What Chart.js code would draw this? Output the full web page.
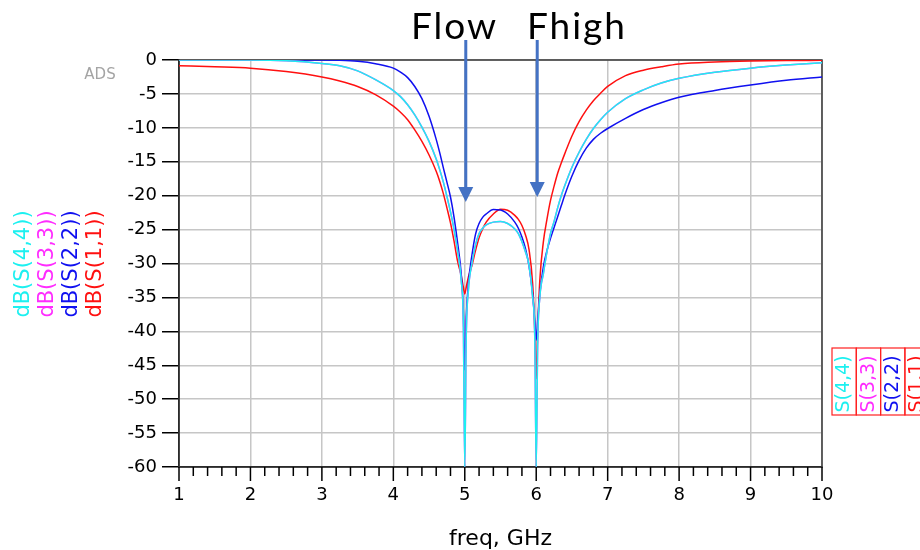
<!DOCTYPE html>
<html>
<head>
<meta charset="utf-8">
<title>Return loss, S(1,1) to S(4,4)</title>
<script src="https://cdn.jsdelivr.net/npm/chart.js@4.4.1/dist/chart.umd.min.js"></script>
<style>
    body { margin: 0; background: #fff; }
    #wrap { position: relative; width: 920px; height: 550px; }
</style>
</head>
<body>
<div id="wrap"><canvas id="sparChart"></canvas></div>
<script>
"use strict";

// sweep points, GHz (denser around the two reflection zeros)
const freqGHz = [
    1, 1.5, 2, 2.5, 3, 3.25, 3.5, 3.75, 4,
    4.1, 4.2, 4.3, 4.4, 4.5, 4.6, 4.65, 4.7, 4.75, 4.8, 4.85, 4.9, 4.95, 4.98,
    5, 5.02, 5.05, 5.1, 5.15, 5.2, 5.25, 5.3, 5.4, 5.5,
    5.6, 5.7, 5.75, 5.8, 5.85, 5.9, 5.95, 5.98,
    6, 6.02, 6.05, 6.1, 6.15, 6.2, 6.25, 6.3, 6.35, 6.4,
    6.5, 6.6, 6.7, 6.8, 6.9, 7, 7.25, 7.5, 7.75, 8, 8.5, 9, 9.5, 10
];

// dB(S(1,1))
const s11 = [
    -0.85, -1.0, -1.2, -1.7, -2.5, -3.1, -3.9, -5.1, -6.8,
    -7.7, -8.8, -10.3, -12.0, -14.0, -16.4, -17.9, -19.7, -21.8, -24.0, -26.7, -29.7, -31.8, -33.5,
    -34.5, -33.5, -32, -30.3, -28.1, -26.2, -24.9, -23.9, -22.7, -22.0,
    -22.15, -22.9, -23.5, -24.4, -25.8, -28, -33, -40,
    -47, -40, -32.5, -26.8, -23.5, -20.7, -18.6, -16.7, -15.2, -13.8,
    -11.2, -9.1, -7.4, -6.0, -4.9, -3.9, -2.3, -1.5, -1.0, -0.6, -0.3, -0.15, -0.08, -0.05
];

// dB(S(2,2))
const s22 = [
    0, 0, 0, 0, 0, -0.05, -0.2, -0.55, -1.2,
    -1.8, -2.6, -3.9, -5.7, -8.3, -11.7, -13.7, -15.9, -18.0, -20.2, -23.2, -27.0, -31.5, -37,
    -45.7, -38, -33, -28.8, -25.7, -24.1, -23.2, -22.7, -22.05, -22.1,
    -22.7, -23.9, -24.8, -26.1, -27.8, -30.4, -34.5, -38.5,
    -41.3, -38.5, -34.5, -30.5, -28.1, -26.3, -24.7, -23.1, -21.5, -19.9,
    -17.1, -14.8, -13.0, -11.7, -10.8, -10.1, -8.6, -7.3, -6.3, -5.5, -4.5, -3.7, -3.0, -2.5
];

// dB(S(4,4))
const s44 = [
    0, 0, 0, -0.1, -0.5, -0.85, -1.6, -2.9, -4.5,
    -5.4, -6.6, -8.1, -9.9, -12.0, -14.6, -16.2, -18.0, -20.1, -22.4, -25.0, -28.2, -32.5, -39,
    -60, -41, -34, -30, -27.3, -25.6, -24.8, -24.3, -23.9, -23.8,
    -24.1, -24.9, -25.6, -26.8, -28.3, -30.3, -35, -41,
    -60, -42, -35, -31.5, -28.3, -25.6, -23.8, -21.8, -20, -18.5,
    -15.8, -13.6, -11.7, -10.1, -8.8, -7.7, -5.7, -4.4, -3.4, -2.7, -1.8, -1.2, -0.75, -0.4
];

// dB(S(3,3)) sits right under S(4,4) over the whole sweep
const s33 = s44.slice();

const traceNames = ['S(4,4)', 'S(3,3)', 'S(2,2)', 'S(1,1)'];
const traceData = [s44, s33, s22, s11];
const traceColors = ['#1cf0f0', '#ff2cff', '#1010f0', '#ff1010'];

const markerFreqs = [5, 6];
const markerLabels = ['Flow', 'Fhigh'];

const isWhole = v => Math.abs(v - Math.round(v)) < 1e-6;

const overlay = {
    id: 'adsOverlay',
    beforeDatasetsDraw(chart) {
        const { ctx, chartArea: a } = chart;
        ctx.save();
        ctx.strokeStyle = '#383838';
        ctx.lineWidth = 1.5;
        ctx.strokeRect(a.left, a.top, a.right - a.left, a.bottom - a.top);
        ctx.restore();
    },
    afterDraw(chart) {
        const { ctx, chartArea: a } = chart;
        const xs = chart.scales.x;
        ctx.save();

        // x tick marks under the axis
        ctx.strokeStyle = '#000';
        ctx.lineWidth = 1.5;
        xs.ticks.forEach(t => {
            const px = xs.getPixelForValue(t.value);
            const len = isWhole(t.value) ? 14 : 9;
            ctx.beginPath();
            ctx.moveTo(px, a.bottom);
            ctx.lineTo(px, a.bottom + len);
            ctx.stroke();
        });

        // x axis title
        ctx.fillStyle = '#000';
        ctx.font = '22px "DejaVu Sans"';
        ctx.textAlign = 'center';
        ctx.textBaseline = 'middle';
        ctx.fillText('freq, GHz', (a.left + a.right) / 2, 539);

        // stacked y axis titles, one per trace
        ctx.font = '21px "DejaVu Sans"';
        traceNames.forEach((name, i) => {
            ctx.save();
            ctx.translate(24 + i * 24, 264);
            ctx.rotate(-Math.PI / 2);
            ctx.fillStyle = traceColors[i];
            ctx.fillText('dB(' + name + ')', 0, 0);
            ctx.restore();
        });

        // boxed trace names at the right edge
        ctx.font = '19px "DejaVu Sans"';
        ctx.strokeStyle = '#ff2020';
        ctx.lineWidth = 1.2;
        traceNames.forEach((name, i) => {
            const left = 832 + i * 24.3;
            ctx.strokeRect(left, 348, 24.3, 67);
            ctx.save();
            ctx.translate(left + 12.5, 384);
            ctx.rotate(-Math.PI / 2);
            ctx.fillStyle = traceColors[i];
            ctx.fillText(name, 0, 0);
            ctx.restore();
        });

        ctx.font = '15px "DejaVu Sans"';
        ctx.fillStyle = '#a4a4a4';
        ctx.fillText('ADS', 100, 75);

        // band edge markers
        ctx.font = '37px Lato';
        ctx.letterSpacing = '2px';
        ctx.fillStyle = '#000';
        ctx.textAlign = 'left';
        ctx.textBaseline = 'alphabetic';
        ctx.fillText(markerLabels[0], 411, 39);
        ctx.fillText(markerLabels[1], 527, 39);
        ctx.letterSpacing = '0px';

        const tips = [202, 197];
        ctx.strokeStyle = '#4472c4';
        ctx.fillStyle = '#4472c4';
        ctx.lineWidth = 3;
        markerFreqs.forEach((f, i) => {
            const px = xs.getPixelForValue(f) + 1;
            ctx.beginPath();
            ctx.moveTo(px, 40);
            ctx.lineTo(px, tips[i] - 12);
            ctx.stroke();
            ctx.beginPath();
            ctx.moveTo(px - 7.5, tips[i] - 15);
            ctx.lineTo(px + 7.5, tips[i] - 15);
            ctx.lineTo(px, tips[i]);
            ctx.closePath();
            ctx.fill();
        });

        ctx.restore();
    }
};

const datasets = traceNames.map((name, i) => ({
    label: 'dB(' + name + ')',
    data: freqGHz.map((f, k) => ({ x: f, y: traceData[i][k] })),
    borderColor: traceColors[i],
    borderWidth: 1.5,
    pointRadius: 0,
    cubicInterpolationMode: 'monotone',
    fill: false
}));

new Chart(document.getElementById('sparChart'), {
    type: 'line',
    data: { datasets: datasets },
    plugins: [overlay],
    options: {
        responsive: true,
        maintainAspectRatio: false,
        animation: false,
        layout: { padding: { left: 0, right: 98, top: 60, bottom: 0 } },
        plugins: {
            legend: { display: false },
            tooltip: { enabled: false }
        },
        scales: {
            x: {
                type: 'linear',
                min: 1,
                max: 10,
                afterFit: s => { s.height = 83; },
                ticks: {
                    stepSize: 0.2,
                    autoSkip: false,
                    maxRotation: 0,
                    padding: 18,
                    color: '#000',
                    font: { family: 'DejaVu Sans', size: 18 },
                    callback: v => isWhole(v) ? String(Math.round(v)) : ''
                },
                grid: {
                    drawTicks: false,
                    lineWidth: 1.5,
                    color: c => (c.tick && isWhole(c.tick.value)) ? '#c6c6c6' : 'rgba(0,0,0,0)'
                },
                border: { color: '#000', width: 1.5 }
            },
            y: {
                min: -60,
                max: 0,
                afterFit: s => { s.width = 179; },
                ticks: {
                    stepSize: 5,
                    padding: 5,
                    color: '#000',
                    font: { family: 'DejaVu Sans', size: 18 }
                },
                grid: {
                    color: '#c6c6c6',
                    lineWidth: 1.5,
                    tickLength: 17,
                    tickColor: '#000',
                    tickWidth: 1.5
                },
                border: { color: '#000', width: 1.5 }
            }
        }
    }
});
</script>
</body>
</html>
